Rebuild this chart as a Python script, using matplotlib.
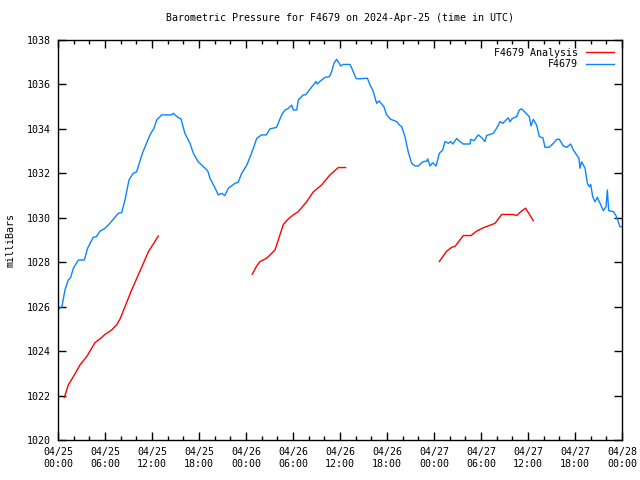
import matplotlib
matplotlib.use("Agg")
import matplotlib.pyplot as plt
import numpy as np

# ---------------- data (hours since 2024-04-25 00:00 UTC, pressure in mb) ----------------
obs_hours = [0.1, 0.26, 0.5, 0.89, 1.3, 1.6, 1.96, 2.6, 3.36, 3.78, 4.5, 4.9, 5.36, 5.9, 6.5,
             7.06, 7.7, 8.13, 8.55, 9.06, 9.6, 10.04, 10.77, 11.3, 11.74, 12.25, 12.6, 13.23,
             14.5, 14.72, 15.36, 15.7, 16.2, 16.85, 17.28, 17.9, 18.55, 19.1, 19.4, 19.96,
             20.47, 20.9, 21.3, 21.75, 22.6, 23.0, 23.45, 24.1, 24.7, 25.06, 25.36, 25.99,
             26.6, 27.06, 27.9, 28.55, 28.98, 29.4, 29.83, 30.04, 30.47, 30.68, 31.3, 31.6,
             32.08, 32.94, 33.1, 33.4, 34.09, 34.64, 34.94, 35.23, 35.57, 35.9, 36.08, 36.42,
             37.28, 37.6, 38.04, 38.3, 39.5, 39.75, 40.25, 40.68, 41.0, 41.6, 41.96, 42.47,
             43.24, 43.66, 43.87, 44.3, 44.72, 45.15, 45.58, 46.0, 46.55, 47.06, 47.2, 47.49,
             47.83, 48.26, 48.68, 49.11, 49.4, 49.83, 50.1, 50.4, 50.9, 51.32, 51.74, 52.6,
             52.68, 53.1, 53.66, 54.1, 54.5, 54.72, 55.57, 56.0, 56.43, 56.8, 57.19, 57.49,
             57.7, 58.0, 58.55, 58.89, 59.19, 59.62, 60.17, 60.38, 60.68, 61.1, 61.45, 61.9,
             62.17, 62.7, 63.23, 63.66, 64.0, 64.51, 64.94, 65.45, 65.79, 66.22, 66.5, 66.64,
             66.85, 67.28, 67.58, 67.83, 68.0, 68.26, 68.55, 68.85, 69.19, 69.62, 69.96, 70.13,
             70.3, 70.9, 71.3, 71.74, 72.0]
obs_mb = [1025.9, 1025.93, 1026.0, 1026.75, 1027.2, 1027.3, 1027.73, 1028.1, 1028.1, 1028.63,
          1029.12, 1029.15, 1029.4, 1029.5, 1029.7, 1029.93, 1030.2, 1030.23, 1030.8, 1031.7,
          1032.0, 1032.07, 1032.9, 1033.35, 1033.73, 1034.03, 1034.4, 1034.63, 1034.63, 1034.7,
          1034.5, 1034.45, 1033.8, 1033.35, 1032.9, 1032.52, 1032.3, 1032.12, 1031.78, 1031.4,
          1031.03, 1031.1, 1031.0, 1031.33, 1031.55, 1031.6, 1032.0, 1032.37, 1032.9, 1033.25,
          1033.57, 1033.73, 1033.73, 1034.0, 1034.07, 1034.63, 1034.85, 1034.92, 1035.07,
          1034.85, 1034.85, 1035.3, 1035.53, 1035.53, 1035.75, 1036.13, 1036.02, 1036.13,
          1036.32, 1036.35, 1036.58, 1036.95, 1037.13, 1036.95, 1036.83, 1036.9, 1036.9,
          1036.65, 1036.28, 1036.25, 1036.28, 1036.05, 1035.68, 1035.15, 1035.26, 1035.0,
          1034.63, 1034.43, 1034.33, 1034.15, 1034.1, 1033.65, 1032.95, 1032.45, 1032.33,
          1032.33, 1032.52, 1032.55, 1032.65, 1032.33, 1032.48, 1032.33, 1032.9, 1033.05,
          1033.43, 1033.35, 1033.43, 1033.32, 1033.57, 1033.43, 1033.32, 1033.32, 1033.53,
          1033.47, 1033.73, 1033.6, 1033.43, 1033.7, 1033.8, 1034.03, 1034.33, 1034.25,
          1034.4, 1034.5, 1034.32, 1034.47, 1034.55, 1034.85, 1034.9, 1034.75, 1034.55,
          1034.13, 1034.43, 1034.17, 1033.65, 1033.6, 1033.17, 1033.17, 1033.35, 1033.53,
          1033.53, 1033.23, 1033.17, 1033.32, 1033.05, 1032.83, 1032.68, 1032.23, 1032.52,
          1032.23, 1031.55, 1031.4, 1031.5, 1030.95, 1030.72, 1030.92, 1030.65, 1030.32,
          1030.5, 1031.25, 1030.32, 1030.28, 1030.05, 1029.6, 1029.6]

ana1_hours = [0.81, 1.32, 1.96, 2.81, 3.66, 4.72, 5.36, 6.0, 6.85, 7.49, 7.9, 8.55, 9.4, 10.25,
              10.9, 11.53, 12.17, 12.8]
ana1_mb = [1021.92, 1022.48, 1022.85, 1023.38, 1023.75, 1024.38, 1024.55, 1024.75, 1024.95,
           1025.18, 1025.43, 1026.0, 1026.75, 1027.43, 1027.95, 1028.47, 1028.82, 1029.18]
ana2_hours = [24.8, 25.36, 25.79, 26.64, 27.7, 28.26, 28.77, 29.4, 30.04, 30.68, 31.74, 32.6,
              33.66, 34.72, 35.79, 36.72]
ana2_mb = [1027.46, 1027.83, 1028.03, 1028.18, 1028.55, 1029.15, 1029.7, 1029.95, 1030.13,
           1030.28, 1030.72, 1031.17, 1031.48, 1031.93, 1032.26, 1032.26]
ana3_hours = [48.68, 49.62, 50.26, 50.7, 51.74, 52.72, 53.45, 54.3, 55.79, 56.64, 58.04, 58.55,
              59.1, 59.7, 60.68]
ana3_mb = [1028.03, 1028.5, 1028.67, 1028.72, 1029.2, 1029.2, 1029.4, 1029.55, 1029.75,
           1030.15, 1030.15, 1030.1, 1030.28, 1030.43, 1029.87]

tick_labels = ["04/25\n00:00", "04/25\n06:00", "04/25\n12:00", "04/25\n18:00",
               "04/26\n00:00", "04/26\n06:00", "04/26\n12:00", "04/26\n18:00",
               "04/27\n00:00", "04/27\n06:00", "04/27\n12:00", "04/27\n18:00",
               "04/28\n00:00"]

# ---------------- plot ----------------
plt.rcParams['font.family'] = ['DejaVu Sans Mono']
plt.rcParams['font.size'] = 7.2

fig = plt.figure(figsize=(6.4, 4.8), dpi=100)
ax = fig.add_axes([58/640, 40/480, 564/640, 400/480])

red = '#ff0000'
blue = '#0a84ff'
ax.plot(ana1_hours, ana1_mb, color=red, lw=1, label='F4679 Analysis')
ax.plot(ana2_hours, ana2_mb, color=red, lw=1)
ax.plot(ana3_hours, ana3_mb, color=red, lw=1)
ax.plot(obs_hours, obs_mb, color=blue, lw=1, label='F4679')

ax.set_xlim(0, 72)
ax.set_ylim(1020, 1038)
ax.set_xticks(np.arange(0, 73, 6))
ax.set_xticklabels(tick_labels, linespacing=1.3)
ax.set_xticks(np.arange(0, 73, 2), minor=True)
ax.set_yticks(np.arange(1020, 1039, 2))
ax.tick_params(which='both', direction='in', top=True, right=True, width=1)
ax.tick_params(which='major', length=6, pad=5)
ax.tick_params(which='minor', length=3)
for s in ax.spines.values():
    s.set_linewidth(1)

ax.set_ylabel('milliBars', labelpad=8)
ax.set_title('Barometric Pressure for F4679 on 2024-Apr-25 (time in UTC)', fontsize=7.2, pad=14)

ax.legend(loc='upper right', frameon=False, markerfirst=False, handlelength=2.8,
          handletextpad=0.8, labelspacing=0.15, borderaxespad=0.4)

fig.savefig('out.png', dpi=100)
